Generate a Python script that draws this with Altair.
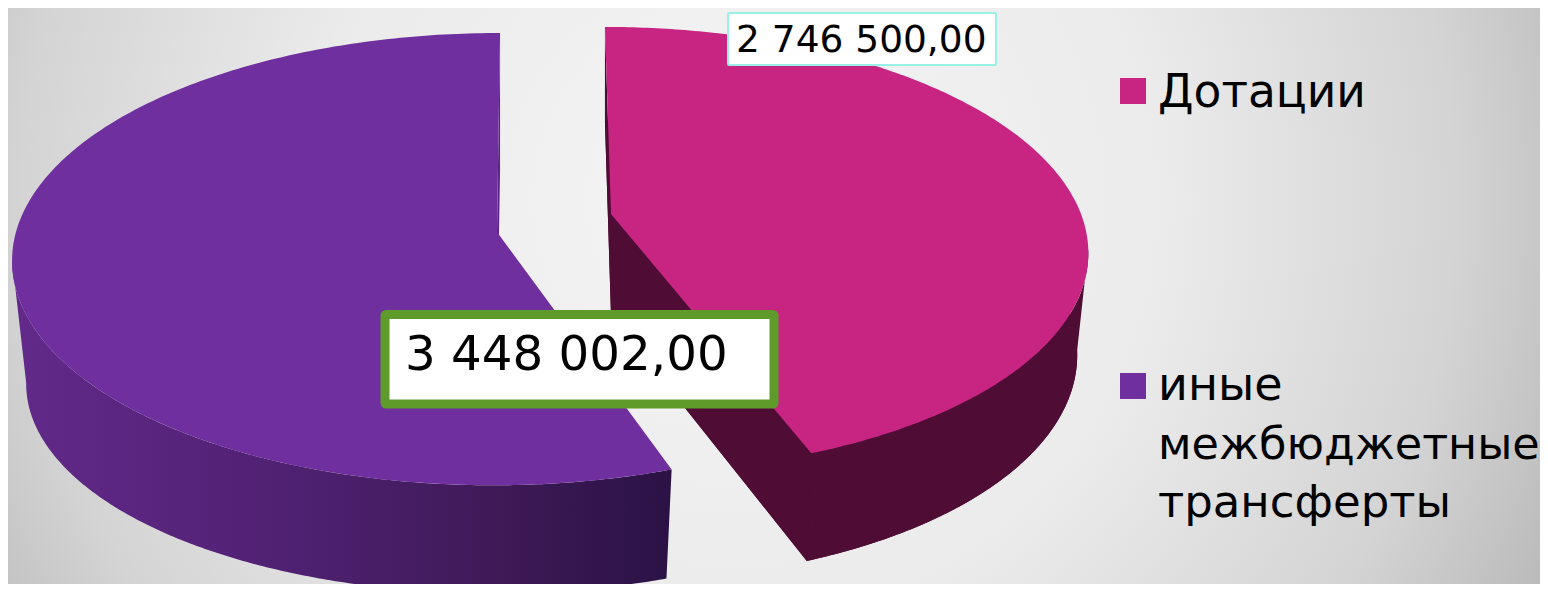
import numpy as np
import pandas as pd
import altair as alt

# ---- chart values
categories = ["Дотации", "иные межбюджетные трансферты"]
values = [2746500.00, 3448002.00]
value_labels = ["2 746 500,00", "3 448 002,00"]
legend_lines = [["Дотации"], ["иные", "межбюджетные", "трансферты"]]
colors = ["#C82582", "#6F2F9E"]

# ---- view (image pixels map 1:1 on the scales)
W, H = 1532, 576
OFF = 8
xs = alt.Scale(domain=[OFF, OFF + W], nice=False, zero=False)
ys = alt.Scale(domain=[OFF + H, OFF], nice=False, zero=False)

# ---- perspective projection of a tilted disc (degrees clockwise from 12 o'clock)
def proj(t, p):
    t = np.radians(np.asarray(t, dtype=float))
    u, v = np.sin(t), -np.cos(t)
    w = 1 - p["k"] * v
    return p["x0"] + (p["a"] * u + p["s"] * v) / w, p["y0"] + p["b"] * v / w

M_TOP = dict(x0=611, y0=214, a=470, b=217, k=0.16, s=7)
M_BOT = dict(x0=611, y0=315, a=459, b=223, k=0.16, s=7)
P_TOP = dict(x0=497, y0=232, a=481, b=222.9, k=0.12, s=-3.4)
P_BOT = dict(x0=497, y0=357, a=467, b=208, k=0.12, s=-3.4)

total = sum(values)
split = 360 * values[0] / total
P_NUDGE = 1.2  # the drawing's perspective pushes the cut edge slightly

def sector(p, a0, a1):
    t = np.linspace(a0, a1, 240)
    x, y = proj(t, p)
    return np.r_[x, p["x0"]], np.r_[y, p["y0"]]

def band(p, q, a0, a1):
    t = np.linspace(a0, a1, 240)
    x1, y1 = proj(t, p)
    x2, y2 = proj(t[::-1], q)
    return np.r_[x1, x2], np.r_[y1, y2]

def quad(p, q, a):
    x1, y1 = proj(a, p)
    x2, y2 = proj(a, q)
    return (np.array([float(x1), p["x0"], q["x0"], float(x2)]),
            np.array([float(y1), p["y0"], q["y0"], float(y2)]))

def poly(xy, fill):
    df = pd.DataFrame({"x": xy[0], "y": xy[1], "i": np.arange(len(xy[0]))})
    return alt.Chart(df).mark_line(filled=True, fill=fill, stroke=None, strokeWidth=0).encode(
        x=alt.X("x:Q", scale=xs, axis=None),
        y=alt.Y("y:Q", scale=ys, axis=None),
        order=alt.Order("i:Q"),
    )

DARK_M = "#4F0C34"
P_WALL = alt.LinearGradient(
    gradient="linear", x1=0, y1=0, x2=1, y2=0,
    stops=[alt.GradientStop(offset=0, color="#62298A"),
           alt.GradientStop(offset=0.45, color="#4E2070"),
           alt.GradientStop(offset=0.72, color="#3F1A58"),
           alt.GradientStop(offset=1, color="#2B1245")],
)
BG = alt.RadialGradient(
    gradient="radial", x1=0.48, y1=0.44, r1=0, x2=0.48, y2=0.44, r2=0.53,
    stops=[alt.GradientStop(offset=0, color="#F5F5F5"),
           alt.GradientStop(offset=0.45, color="#EBEBEB"),
           alt.GradientStop(offset=0.75, color="#D4D4D4"),
           alt.GradientStop(offset=0.88, color="#C2C2C2"),
           alt.GradientStop(offset=1, color="#B0B0B0")],
)

bg = alt.Chart(pd.DataFrame({"k": [0]})).mark_rect(fill=BG).encode(
    x=alt.value(-8), x2=alt.value(W + 8), y=alt.value(-600), y2=alt.value(1200))

layers = [
    bg,
    poly(band(P_TOP, P_BOT, split + P_NUDGE, 263), P_WALL),
    poly(quad(P_TOP, P_BOT, 360), "#5A2885"),
    poly(sector(P_TOP, split + P_NUDGE, 360), colors[1]),
    poly(sector(M_BOT, 0, split), DARK_M),
    poly(quad(M_TOP, M_BOT, 0), DARK_M),
    poly(quad(M_TOP, M_BOT, split), DARK_M),
    poly(band(M_TOP, M_BOT, 99, split), DARK_M),
    poly(sector(M_TOP, 0, split), colors[0]),
]

# ---- value labels
boxes = pd.DataFrame({
    "x": [728, 385], "x2": [996, 774], "y": [13, 314.5], "y2": [65, 404],
    "tx": [736, 405], "ty": [52, 370], "label": value_labels,
})
for i, (stroke, sw, fs) in enumerate([("#9AF0E6", 2, 37.5), ("#5F9B2A", 9, 48.3)]):
    row = boxes.iloc[[i]]
    layers.append(alt.Chart(row).mark_rect(fill="white", stroke=stroke, strokeWidth=sw, cornerRadius=1).encode(
        x=alt.X("x:Q", scale=xs, axis=None), x2="x2:Q",
        y=alt.Y("y:Q", scale=ys, axis=None), y2="y2:Q"))
    layers.append(alt.Chart(row).mark_text(
        font="DejaVu Sans", fontSize=fs, align="left", baseline="alphabetic", color="black"
    ).encode(x=alt.X("tx:Q", scale=xs, axis=None), y=alt.Y("ty:Q", scale=ys, axis=None), text="label:N"))

# ---- legend
keys = pd.DataFrame({"x": [1120, 1120], "x2": [1146, 1146], "y": [78, 373], "y2": [104, 399], "c": categories})
layers.append(alt.Chart(keys).mark_rect().encode(
    x=alt.X("x:Q", scale=xs, axis=None), x2="x2:Q",
    y=alt.Y("y:Q", scale=ys, axis=None), y2="y2:Q",
    color=alt.Color("c:N", scale=alt.Scale(domain=categories, range=colors), legend=None),
))
baselines = [[107], [400, 459, 517]]
sizes = [[45.5], [46, 44.5, 45]]
for ls, bs, ss in zip(legend_lines, baselines, sizes):
    for t, b, s in zip(ls, bs, ss):
        layers.append(alt.Chart(pd.DataFrame({"t": [t], "y": [b], "x": [1158]})).mark_text(
            font="DejaVu Sans", fontSize=s, align="left", baseline="alphabetic", color="black"
        ).encode(x=alt.X("x:Q", scale=xs, axis=None), y=alt.Y("y:Q", scale=ys, axis=None), text="t:N"))

chart = alt.layer(*layers).properties(
    width=W, height=H, padding=0, autosize=alt.AutoSizeParams(type="none")
).configure_view(stroke=None)

chart.save("out.html", embed_options={"renderer": "svg", "actions": False})
